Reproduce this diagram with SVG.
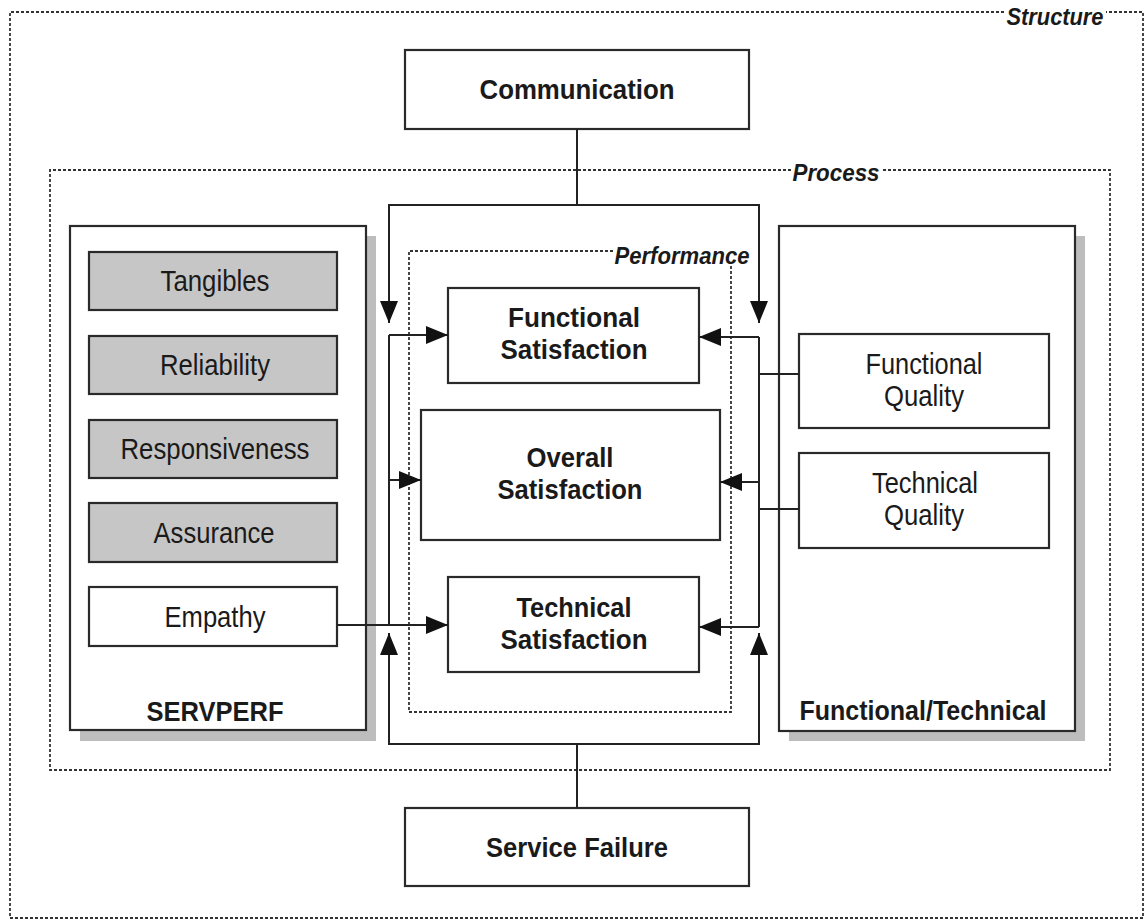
<svg xmlns="http://www.w3.org/2000/svg" width="1145" height="924" viewBox="0 0 1145 924">
<style>
.box{fill:#fff;stroke:#2a2a2a;stroke-width:2.2}
.gbox{fill:#c6c6c6;stroke:#2a2a2a;stroke-width:2.2}
.shadow{fill:#bdbdbd;stroke:none}
.dash{fill:none;stroke:#333;stroke-width:1.8;stroke-dasharray:3 2}
.ln{fill:none;stroke:#222;stroke-width:2}
.t{font-family:"Liberation Sans",Arial,sans-serif;font-size:30px;fill:#1a1a1a;text-anchor:middle}
.b{font-family:"Liberation Sans",Arial,sans-serif;font-size:28px;font-weight:bold;fill:#1a1a1a;text-anchor:middle}
.i{font-family:"Liberation Sans",Arial,sans-serif;font-size:24px;font-weight:bold;font-style:italic;fill:#1a1a1a;text-anchor:middle}
</style>
<defs>
<marker id="ah" markerUnits="userSpaceOnUse" markerWidth="24" markerHeight="20" refX="22" refY="10" orient="auto">
<path d="M0,1 L22,10 L0,19 z" fill="#111"/>
</marker>
</defs>
<rect width="1145" height="924" fill="#fff"/>

<g id="structure">
<path class="dash" d="M1004,12 H10 V918 H1143 V12 H1106"/>
<text class="i" x="1055" y="25" textLength="97" lengthAdjust="spacingAndGlyphs">Structure</text>
</g>
<g id="process">
<path class="dash" d="M791,170 H50 V770 H1110 V170 H882"/>
<text class="i" x="836" y="181" textLength="87" lengthAdjust="spacingAndGlyphs">Process</text>
</g>
<g id="performance">
<path class="dash" d="M613,251 H409 V712 H731 V266"/>
<text class="i" x="682" y="264" textLength="135" lengthAdjust="spacingAndGlyphs">Performance</text>
</g>

<g id="communication">
<rect class="box" x="405" y="50" width="344" height="79"/>
<text class="b" x="577" y="99" textLength="195" lengthAdjust="spacingAndGlyphs">Communication</text>
</g>
<g id="service-failure">
<rect class="box" x="405" y="808" width="344" height="78"/>
<text class="b" x="577" y="857" textLength="182" lengthAdjust="spacingAndGlyphs">Service Failure</text>
</g>

<g id="servperf">
<rect class="shadow" x="80" y="236" width="296" height="505"/>
<rect class="box" x="70" y="226" width="296" height="504"/>
<text class="b" x="215" y="721" textLength="137" lengthAdjust="spacingAndGlyphs">SERVPERF</text>
</g>
<g id="tangibles">
<rect class="gbox" x="89" y="252" width="248" height="58"/>
<text class="t" x="215" y="291" textLength="109" lengthAdjust="spacingAndGlyphs">Tangibles</text>
</g>
<g id="reliability">
<rect class="gbox" x="89" y="336" width="248" height="58"/>
<text class="t" x="215" y="375" textLength="110" lengthAdjust="spacingAndGlyphs">Reliability</text>
</g>
<g id="responsiveness">
<rect class="gbox" x="89" y="420" width="248" height="58"/>
<text class="t" x="215" y="459" textLength="189" lengthAdjust="spacingAndGlyphs">Responsiveness</text>
</g>
<g id="assurance">
<rect class="gbox" x="89" y="503" width="248" height="59"/>
<text class="t" x="214" y="543" textLength="121" lengthAdjust="spacingAndGlyphs">Assurance</text>
</g>
<g id="empathy">
<rect class="box" x="89" y="587" width="248" height="59"/>
<text class="t" x="215" y="627" textLength="101" lengthAdjust="spacingAndGlyphs">Empathy</text>
</g>

<g id="functional-technical">
<rect class="shadow" x="789" y="236" width="296" height="505"/>
<rect class="box" x="779" y="226" width="296" height="505"/>
<text class="b" x="923" y="720" textLength="247" lengthAdjust="spacingAndGlyphs">Functional/Technical</text>
</g>
<g id="functional-quality">
<rect class="box" x="799" y="334" width="250" height="94"/>
<text class="t" x="924" y="374" textLength="117" lengthAdjust="spacingAndGlyphs">Functional</text>
<text class="t" x="924" y="406" textLength="80" lengthAdjust="spacingAndGlyphs">Quality</text>
</g>
<g id="technical-quality">
<rect class="box" x="799" y="453" width="250" height="95"/>
<text class="t" x="925" y="493" textLength="106" lengthAdjust="spacingAndGlyphs">Technical</text>
<text class="t" x="924" y="525" textLength="80" lengthAdjust="spacingAndGlyphs">Quality</text>
</g>

<g id="functional-satisfaction">
<rect class="box" x="448" y="288" width="251" height="95"/>
<text class="b" x="574" y="327" textLength="132" lengthAdjust="spacingAndGlyphs">Functional</text>
<text class="b" x="574" y="359" textLength="147" lengthAdjust="spacingAndGlyphs">Satisfaction</text>
</g>
<g id="overall-satisfaction">
<rect class="box" x="421" y="410" width="299" height="130"/>
<text class="b" x="570" y="467" textLength="87" lengthAdjust="spacingAndGlyphs">Overall</text>
<text class="b" x="570" y="499" textLength="145" lengthAdjust="spacingAndGlyphs">Satisfaction</text>
</g>
<g id="technical-satisfaction">
<rect class="box" x="448" y="577" width="251" height="95"/>
<text class="b" x="574" y="617" textLength="115" lengthAdjust="spacingAndGlyphs">Technical</text>
<text class="b" x="574" y="649" textLength="147" lengthAdjust="spacingAndGlyphs">Satisfaction</text>
</g>

<g id="connectors">
<path class="ln" d="M577,129 V205"/>
<path class="ln" d="M577,205 H389 V323" marker-end="url(#ah)"/>
<path class="ln" d="M577,205 H759 V323" marker-end="url(#ah)"/>
<path class="ln" d="M577,808 V744"/>
<path class="ln" d="M577,744 H389 V633" marker-end="url(#ah)"/>
<path class="ln" d="M577,744 H759 V633" marker-end="url(#ah)"/>
<path class="ln" d="M389,625 V335"/>
<path class="ln" d="M389,335 H448" marker-end="url(#ah)"/>
<path class="ln" d="M389,480 H421" marker-end="url(#ah)"/>
<path class="ln" d="M337,625 H448" marker-end="url(#ah)"/>
<path class="ln" d="M759,337 V627"/>
<path class="ln" d="M759,337 H699" marker-end="url(#ah)"/>
<path class="ln" d="M759,482 H720" marker-end="url(#ah)"/>
<path class="ln" d="M759,627 H699" marker-end="url(#ah)"/>
<path class="ln" d="M759,374 H799"/>
<path class="ln" d="M759,509 H799"/>
</g>
</svg>
